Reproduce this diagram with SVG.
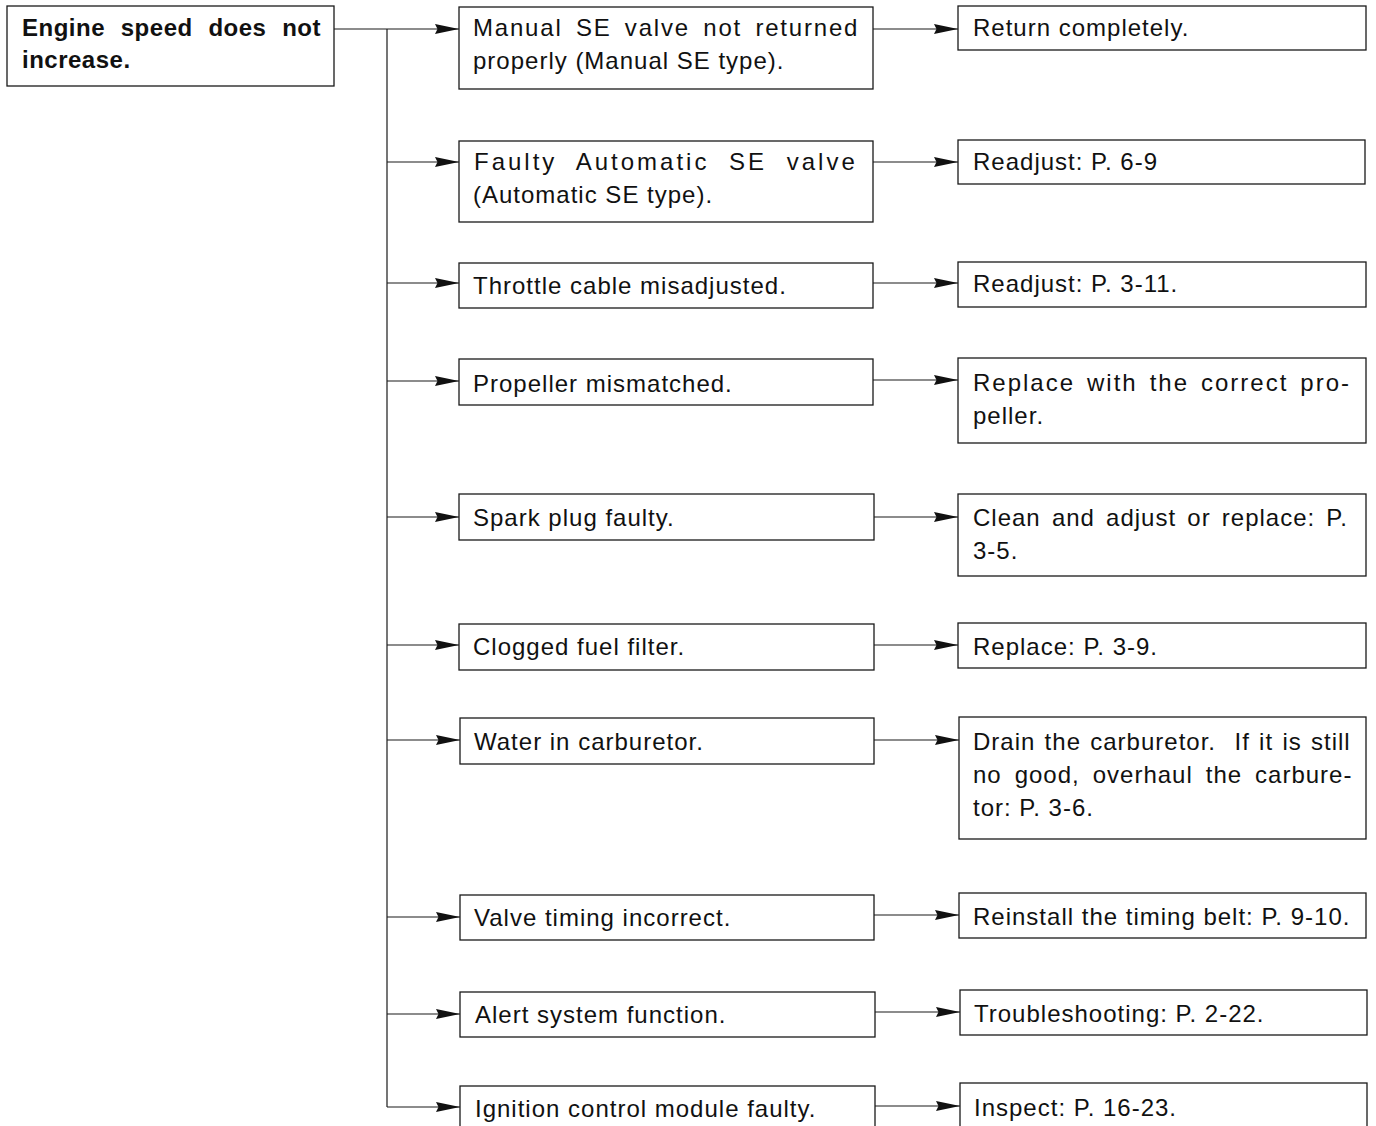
<svg xmlns="http://www.w3.org/2000/svg" width="1376" height="1126" viewBox="0 0 1376 1126">
<defs>
<style>
.box{fill:#fff;stroke:#1a1a1a;stroke-width:1.3}
.t{font-family:"Liberation Sans",Arial,Helvetica,sans-serif;font-size:24px;fill:#111;letter-spacing:1px}
.b{font-weight:bold;letter-spacing:0.5px}
.c{fill:none;stroke:#1a1a1a;stroke-width:1.2}
</style>
<marker id="ah" markerUnits="userSpaceOnUse" markerWidth="26" markerHeight="11" refX="24" refY="5" orient="auto">
<path d="M0,0 L24,5 L0,10 L2.5,5 Z" fill="#111"/>
</marker>
</defs>
<rect width="1376" height="1126" fill="#fff"/>

<g id="connectors">
<path class="c" d="M387,29 V1107"/>
<path class="c" d="M334,29 H459" marker-end="url(#ah)"/>
<path class="c" d="M387,162 H459" marker-end="url(#ah)"/>
<path class="c" d="M387,283 H459" marker-end="url(#ah)"/>
<path class="c" d="M387,381 H459" marker-end="url(#ah)"/>
<path class="c" d="M387,517 H459" marker-end="url(#ah)"/>
<path class="c" d="M387,645 H459" marker-end="url(#ah)"/>
<path class="c" d="M387,740 H460" marker-end="url(#ah)"/>
<path class="c" d="M387,917 H460" marker-end="url(#ah)"/>
<path class="c" d="M387,1014 H460" marker-end="url(#ah)"/>
<path class="c" d="M387,1107 H460" marker-end="url(#ah)"/>
<path class="c" d="M873,29 H958" marker-end="url(#ah)"/>
<path class="c" d="M873,162 H958" marker-end="url(#ah)"/>
<path class="c" d="M873,283 H958" marker-end="url(#ah)"/>
<path class="c" d="M873,380 H958" marker-end="url(#ah)"/>
<path class="c" d="M874,517 H958" marker-end="url(#ah)"/>
<path class="c" d="M874,645 H958" marker-end="url(#ah)"/>
<path class="c" d="M874,740 H959" marker-end="url(#ah)"/>
<path class="c" d="M874,915 H959" marker-end="url(#ah)"/>
<path class="c" d="M875,1012 H960" marker-end="url(#ah)"/>
<path class="c" d="M875,1106 H960" marker-end="url(#ah)"/>
</g>

<g id="root">
<rect class="box" x="7" y="6" width="327" height="80"/>
<text class="t b" x="22" y="36" word-spacing="8.6">Engine speed does not</text>
<text class="t b" x="22" y="68">increase.</text>
</g>

<g id="cause1">
<rect class="box" x="459" y="7" width="414" height="82"/>
<text class="t" x="473" y="36" style="letter-spacing:1.8px;word-spacing:4.9px">Manual SE valve not returned</text>
<text class="t" x="473" y="69">properly (Manual SE type).</text>
</g>
<g id="fix1">
<rect class="box" x="958" y="6" width="408" height="44"/>
<text class="t" x="973" y="36">Return completely.</text>
</g>

<g id="cause2">
<rect class="box" x="459" y="141" width="414" height="81"/>
<text class="t" x="474" y="170" style="letter-spacing:3px;word-spacing:10px">Faulty Automatic SE valve</text>
<text class="t" x="473" y="203">(Automatic SE type).</text>
</g>
<g id="fix2">
<rect class="box" x="958" y="140" width="407" height="44"/>
<text class="t" x="973" y="170">Readjust: P. 6-9</text>
</g>

<g id="cause3">
<rect class="box" x="459" y="263" width="414" height="45"/>
<text class="t" x="473" y="294">Throttle cable misadjusted.</text>
</g>
<g id="fix3">
<rect class="box" x="958" y="262" width="408" height="45"/>
<text class="t" x="973" y="292">Readjust: P. 3-11.</text>
</g>

<g id="cause4">
<rect class="box" x="459" y="359" width="414" height="46"/>
<text class="t" x="473" y="392">Propeller mismatched.</text>
</g>
<g id="fix4">
<rect class="box" x="958" y="358" width="408" height="85"/>
<text class="t" x="973" y="391" style="letter-spacing:2px;word-spacing:3.3px">Replace with the correct pro-</text>
<text class="t" x="973" y="424">peller.</text>
</g>

<g id="cause5">
<rect class="box" x="459" y="494" width="415" height="46"/>
<text class="t" x="473" y="526">Spark plug faulty.</text>
</g>
<g id="fix5">
<rect class="box" x="958" y="494" width="408" height="82"/>
<text class="t" x="973" y="526" word-spacing="3.5">Clean and adjust or replace: P.</text>
<text class="t" x="973" y="559">3-5.</text>
</g>

<g id="cause6">
<rect class="box" x="459" y="624" width="415" height="46"/>
<text class="t" x="473" y="655">Clogged fuel filter.</text>
</g>
<g id="fix6">
<rect class="box" x="958" y="623" width="408" height="45"/>
<text class="t" x="973" y="655">Replace: P. 3-9.</text>
</g>

<g id="cause7">
<rect class="box" x="460" y="718" width="414" height="46"/>
<text class="t" x="474" y="750">Water in carburetor.</text>
</g>
<g id="fix7">
<rect class="box" x="959" y="717" width="407" height="122"/>
<text class="t" x="973" y="750" word-spacing="1.6" xml:space="preserve">Drain the carburetor.  If it is still</text>
<text class="t" x="973" y="783" word-spacing="5.3">no good, overhaul the carbure-</text>
<text class="t" x="973" y="816">tor: P. 3-6.</text>
</g>

<g id="cause8">
<rect class="box" x="460" y="895" width="414" height="45"/>
<text class="t" x="474" y="926">Valve timing incorrect.</text>
</g>
<g id="fix8">
<rect class="box" x="959" y="893" width="407" height="45"/>
<text class="t" x="973" y="925">Reinstall the timing belt: P. 9-10.</text>
</g>

<g id="cause9">
<rect class="box" x="460" y="992" width="415" height="45"/>
<text class="t" x="475" y="1023">Alert system function.</text>
</g>
<g id="fix9">
<rect class="box" x="960" y="990" width="407" height="45"/>
<text class="t" x="974" y="1022">Troubleshooting: P. 2-22.</text>
</g>

<g id="cause10">
<rect class="box" x="460" y="1086" width="415" height="60"/>
<text class="t" x="475" y="1117">Ignition control module faulty.</text>
</g>
<g id="fix10">
<rect class="box" x="960" y="1083" width="407" height="60"/>
<text class="t" x="974" y="1116">Inspect: P. 16-23.</text>
</g>
</svg>
